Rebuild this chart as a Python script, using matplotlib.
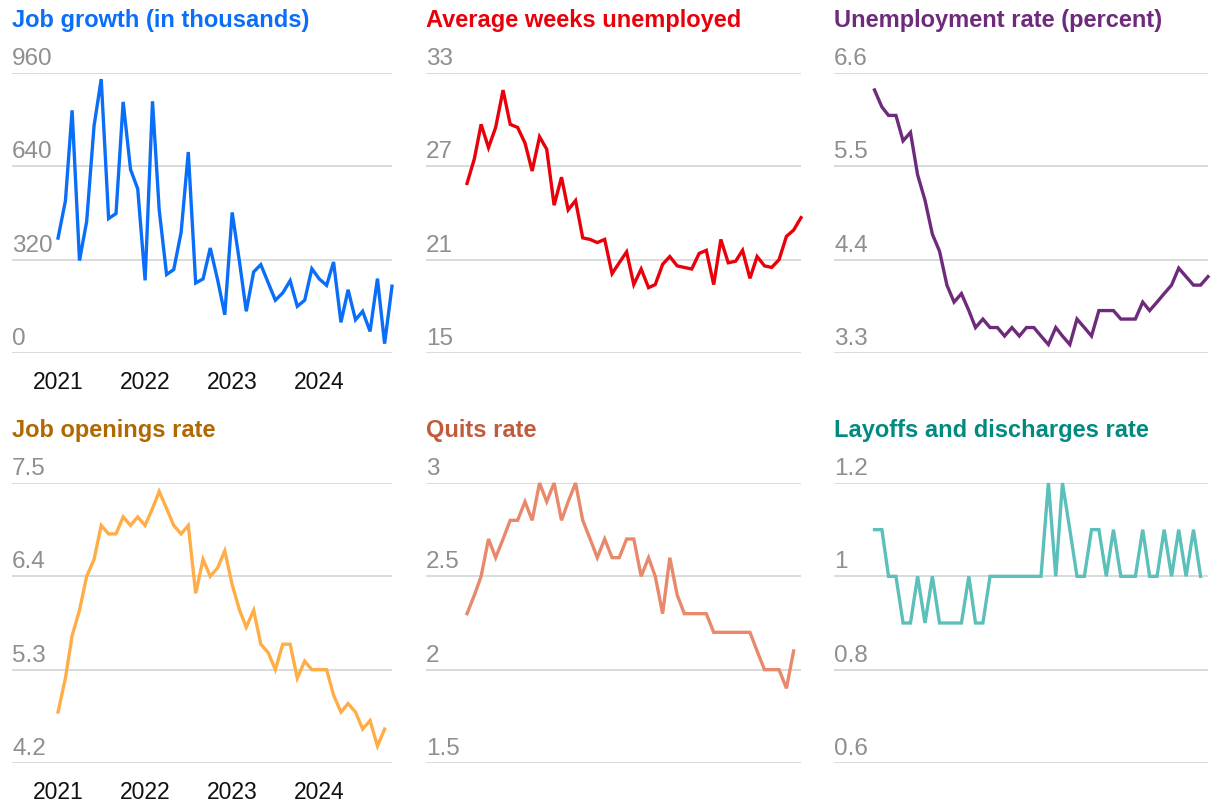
"""
Six small-multiple line charts of US labour market indicators, 2021-2024.
"""
import matplotlib.pyplot as plt
import matplotlib.transforms as mtransforms
import pandas as pd

plt.rcParams['font.family'] = ['Liberation Sans', 'DejaVu Sans']

# Monthly data (CPS / payrolls: Jan 2021 - Nov 2024, JOLTS: Jan 2021 - Oct 2024)
months_main = pd.date_range("2021-01-01", periods=47, freq="MS")
months_jolts = pd.date_range("2021-01-01", periods=46, freq="MS")

job_growth = [394, 522, 832, 317, 451, 779, 939, 461, 478, 861, 629, 563,
              249, 863, 491, 269, 286, 414, 689, 240, 254, 360, 251, 131,
              482, 311, 143, 278, 303, 241, 181, 206, 248, 160, 181, 289,
              254, 232, 312, 105, 217, 114, 143, 74, 255, 32, 229]

weeks_unemployed = [25.9, 27.5, 29.7, 28.2, 29.5, 31.9, 29.7, 29.5, 28.5, 26.7, 28.9, 28.1,
                    24.5, 26.3, 24.2, 24.8, 22.4, 22.3, 22.1, 22.3, 20.1, 20.8, 21.5, 19.4,
                    20.4, 19.2, 19.4, 20.7, 21.2, 20.6, 20.5, 20.4, 21.4, 21.6, 19.4, 22.3,
                    20.8, 20.9, 21.6, 19.8, 21.2, 20.6, 20.5, 21.0, 22.5, 22.9, 23.7]

unemployment_rate = [6.4, 6.2, 6.1, 6.1, 5.8, 5.9, 5.4, 5.1, 4.7, 4.5, 4.1, 3.9,
                     4.0, 3.8, 3.6, 3.7, 3.6, 3.6, 3.5, 3.6, 3.5, 3.6, 3.6, 3.5,
                     3.4, 3.6, 3.5, 3.4, 3.7, 3.6, 3.5, 3.8, 3.8, 3.8, 3.7, 3.7,
                     3.7, 3.9, 3.8, 3.9, 4.0, 4.1, 4.3, 4.2, 4.1, 4.1, 4.2]

openings_rate = [4.8, 5.2, 5.7, 6.0, 6.4, 6.6, 7.0, 6.9, 6.9, 7.1, 7.0, 7.1,
                 7.0, 7.2, 7.4, 7.2, 7.0, 6.9, 7.0, 6.2, 6.6, 6.4, 6.5, 6.7,
                 6.3, 6.0, 5.8, 6.0, 5.6, 5.5, 5.3, 5.6, 5.6, 5.2, 5.4, 5.3,
                 5.3, 5.3, 5.0, 4.8, 4.9, 4.8, 4.6, 4.7, 4.4, 4.6]

quits_rate = [2.3, 2.4, 2.5, 2.7, 2.6, 2.7, 2.8, 2.8, 2.9, 2.8, 3.0, 2.9,
              3.0, 2.8, 2.9, 3.0, 2.8, 2.7, 2.6, 2.7, 2.6, 2.6, 2.7, 2.7,
              2.5, 2.6, 2.5, 2.3, 2.6, 2.4, 2.3, 2.3, 2.3, 2.3, 2.2, 2.2,
              2.2, 2.2, 2.2, 2.2, 2.1, 2.0, 2.0, 2.0, 1.9, 2.1]

layoffs_rate = [1.1, 1.1, 1.0, 1.0, 0.9, 0.9, 1.0, 0.9, 1.0, 0.9, 0.9, 0.9,
                0.9, 1.0, 0.9, 0.9, 1.0, 1.0, 1.0, 1.0, 1.0, 1.0, 1.0, 1.0,
                1.2, 1.0, 1.2, 1.1, 1.0, 1.0, 1.1, 1.1, 1.0, 1.1, 1.0, 1.0,
                1.0, 1.1, 1.0, 1.0, 1.1, 1.0, 1.1, 1.0, 1.1, 1.0]

titles = ["Job growth (in thousands)", "Average weeks unemployed",
          "Unemployment rate (percent)", "Job openings rate", "Quits rate",
          "Layoffs and discharges rate"]
y_ticks = [[0, 320, 640, 960], [15, 21, 27, 33], [3.3, 4.4, 5.5, 6.6],
           [4.2, 5.3, 6.4, 7.5], [1.5, 2, 2.5, 3], [0.6, 0.8, 1, 1.2]]
year_ticks = ["2021", "2022", "2023", "2024"]

series = [(months_main, job_growth), (months_main, weeks_unemployed),
          (months_main, unemployment_rate), (months_jolts, openings_rate),
          (months_jolts, quits_rate), (months_jolts, layoffs_rate)]

line_colors = ["#0a6ef8", "#e8000b", "#6e2b7c", "#ffad47", "#e8896b", "#5bbfba"]
title_colors = ["#0a6ef8", "#e8000b", "#6e2b7c", "#b06800", "#c25a3e", "#008a80"]


def draw_panel(fig, rect, x, y, ticks, title, line_color, title_color,
               show_years, lead_days):
    ax = fig.add_axes(rect)
    ax.plot(x, y, color=line_color, linewidth=2.4, clip_on=False,
            solid_joinstyle='miter', zorder=3)

    ax.set_ylim(ticks[0], ticks[-1])
    ax.set_xlim(pd.Timestamp("2021-01-01") - pd.Timedelta(days=lead_days),
                pd.Timestamp("2024-11-01"))

    # gridlines with the value label sitting above each line
    for t in ticks:
        ax.axhline(t, color="#d2d6d6", linewidth=1.2, zorder=1)
        label_tr = mtransforms.offset_copy(ax.get_yaxis_transform(), fig=fig,
                                           x=0, y=8, units='dots')
        ax.text(0, t, f"{t:g}", transform=label_tr, ha='left', va='baseline',
                fontsize=17.5, color="#8f8f8f")

    title_tr = mtransforms.offset_copy(ax.transAxes, fig=fig, x=0, y=46, units='dots')
    ax.text(0, 1, title, transform=title_tr, ha='left', va='baseline',
            fontsize=17, fontweight='bold', color=title_color)

    for side in ax.spines.values():
        side.set_visible(False)
    ax.set_yticks([])
    ax.tick_params(axis='x', length=0, pad=13, labelsize=16.5, labelcolor="#111111")
    if show_years:
        ax.set_xticks(pd.to_datetime([f"{yr}-01-01" for yr in year_ticks]))
        ax.set_xticklabels(year_ticks)
    else:
        ax.set_xticks([])
    return ax


def main():
    fig = plt.figure(figsize=(12.2, 8.1), dpi=100)

    W, H = 1220.0, 810.0
    col_left = [12, 426, 834]
    col_width = [380, 375, 374]
    col_lead = [193, 172, 170]
    row_bottom = [457, 47]
    row_height = 280

    for i, (x, y) in enumerate(series):
        r, c = divmod(i, 3)
        rect = [col_left[c] / W, row_bottom[r] / H, col_width[c] / W, row_height / H]
        draw_panel(fig, rect, x, y, y_ticks[i], titles[i], line_colors[i],
                   title_colors[i], show_years=(c == 0), lead_days=col_lead[c])

    fig.savefig("out.png", dpi=100)


if __name__ == "__main__":
    main()
